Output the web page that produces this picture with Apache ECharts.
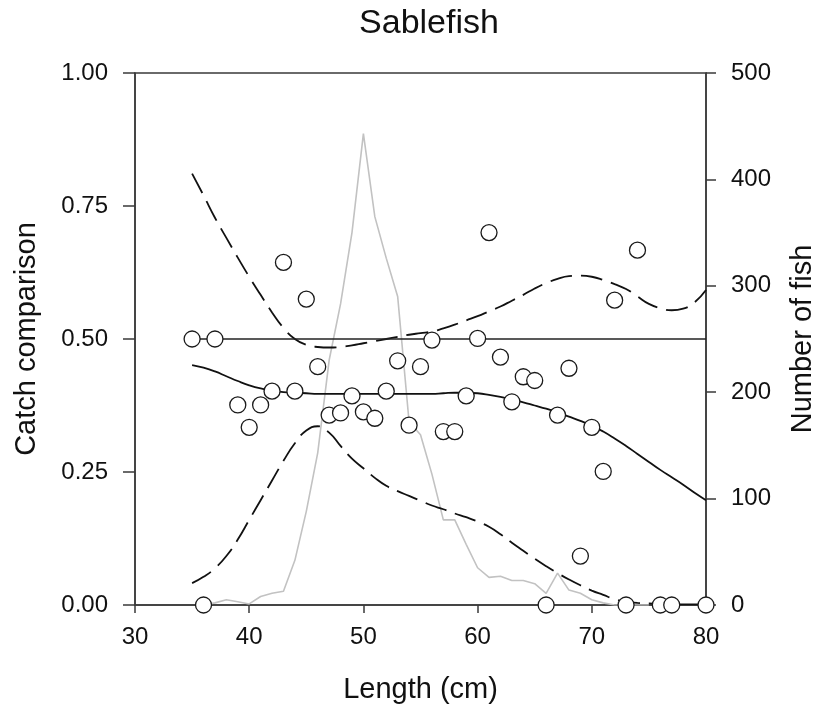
<!DOCTYPE html>
<html>
<head>
<meta charset="utf-8">
<title>Sablefish</title>
<script src="https://cdn.jsdelivr.net/npm/echarts@6/dist/echarts.min.js"></script>
<style>
  html, body { margin: 0; padding: 0; background: #fff; }
  #chart { width: 825px; height: 712px; }
</style>
</head>
<body>
<div id="chart"></div>
<script>
// Lengths (cm) at which the fitted curve and its confidence band are evaluated
const fitLength = [35,36,37,38,39,40,41,42,43,44,45,46,47,48,49,50,51,52,53,54,55,56,57,58,59,60,61,62,63,64,65,66,67,68,69,70,71,72,73,74,75,76,77,78,79,80];

// Fitted catch comparison curve
const fitValue = [0.451,0.446,0.439,0.430,0.421,0.413,0.407,0.403,0.400,0.399,0.398,0.397,0.397,0.397,0.397,0.397,0.397,0.397,0.397,0.397,0.397,0.397,0.398,0.399,0.399,0.398,0.395,0.391,0.386,0.381,0.375,0.369,0.362,0.354,0.346,0.337,0.326,0.313,0.299,0.284,0.269,0.254,0.240,0.226,0.211,0.197];

// Upper and lower 95% confidence limits
const upperBand = [0.811,0.770,0.728,0.690,0.653,0.617,0.583,0.550,0.521,0.500,0.489,0.485,0.484,0.485,0.488,0.492,0.496,0.500,0.504,0.508,0.511,0.514,0.520,0.527,0.535,0.543,0.552,0.561,0.572,0.583,0.595,0.605,0.613,0.618,0.619,0.617,0.611,0.603,0.594,0.580,0.566,0.558,0.554,0.557,0.569,0.592];
const lowerBand = [0.041,0.053,0.069,0.092,0.123,0.160,0.197,0.234,0.271,0.304,0.328,0.336,0.324,0.299,0.275,0.257,0.239,0.224,0.214,0.205,0.196,0.187,0.180,0.172,0.165,0.157,0.147,0.133,0.117,0.102,0.087,0.073,0.060,0.048,0.037,0.027,0.019,0.011,0.006,0.004,0.003,0.002,0.002,0.001,0.001,0.001];

// Equal-catch reference line
const refLength = [35, 80];
const refValue = [0.5, 0.5];

// Observed catch comparison by length class
const obsLength = [35,36,37,39,40,41,42,43,44,45,46,47,48,49,50,51,52,53,54,55,56,57,58,59,60,61,62,63,64,65,66,67,68,69,70,71,72,73,74,76,77,80];
const obsValue  = [0.500,0.000,0.500,0.376,0.334,0.376,0.402,0.644,0.402,0.575,0.448,0.357,0.361,0.393,0.363,0.351,0.402,0.459,0.338,0.448,0.498,0.326,0.326,0.393,0.501,0.700,0.466,0.382,0.429,0.422,0.000,0.357,0.445,0.092,0.334,0.251,0.573,0.000,0.667,0.000,0.000,0.000];

// Length frequency of measured fish (right axis)
const countLength = [36,37,38,39,40,41,42,43,44,45,46,47,48,49,50,51,52,53,54,55,56,57,58,59,60,61,62,63,64,65,66,67,68,69,70,71,72,73,74,75];
const fishCount   = [0,2,5,3,1,8,11,13,42,88,143,230,283,350,443,365,326,290,172,160,123,80,80,57,35,26,27,23,23,20,11,30,14,11,5,2,0,0,0,0];

// Axis ticks
const leftTicks = [0, 0.25, 0.5, 0.75, 1.0];
const rightTicks = [0, 100, 200, 300, 400, 500];
const xTicks = [30, 40, 50, 60, 70, 80];

const pairs = (xs, ys) => xs.map((x, i) => [x, ys[i]]);

const font = 'Liberation Sans, Arial, Helvetica, sans-serif';
const axisColor = '#3a3a3a';
const textColor = '#111111';

const chart = echarts.init(document.getElementById('chart'), null, { renderer: 'canvas' });

chart.setOption({
  backgroundColor: '#ffffff',
  animation: false,
  title: {
    text: 'Sablefish',
    left: 424,
    textAlign: 'center',
    top: 2,
    textStyle: { fontFamily: font, fontSize: 34, fontWeight: 'normal', color: textColor }
  },
  grid: {
    left: 135, right: 115, top: 73, bottom: 107,
    show: true, borderColor: axisColor, borderWidth: 1.5, backgroundColor: 'transparent'
  },
  xAxis: {
    type: 'value',
    min: xTicks[0], max: xTicks[xTicks.length - 1], interval: 10,
    name: 'Length (cm)', nameLocation: 'middle', nameGap: 70,
    nameTextStyle: { fontFamily: font, fontSize: 29, color: textColor },
    axisLine: { show: true, lineStyle: { color: axisColor, width: 1.5 } },
    axisTick: { show: true, length: 8, lineStyle: { color: axisColor, width: 1.5 } },
    axisLabel: { fontFamily: font, fontSize: 24, color: textColor, margin: 20 },
    splitLine: { show: false }
  },
  yAxis: [
    {
      type: 'value', position: 'left',
      min: leftTicks[0], max: leftTicks[leftTicks.length - 1], interval: 0.25,
      name: 'Catch comparison', nameLocation: 'middle', nameGap: 94,
      nameTextStyle: { fontFamily: font, fontSize: 29, color: textColor },
      axisLine: { show: true, lineStyle: { color: axisColor, width: 1.5 } },
      axisTick: { show: true, length: 12, lineStyle: { color: axisColor, width: 1.5 } },
      axisLabel: { fontFamily: font, fontSize: 24, color: textColor, margin: 27,
                   formatter: v => v.toFixed(2) },
      splitLine: { show: false }
    },
    {
      type: 'value', position: 'right',
      min: rightTicks[0], max: rightTicks[rightTicks.length - 1], interval: 100,
      name: 'Number of fish', nameLocation: 'middle', nameGap: 82,
      nameRotate: 90,
      nameTextStyle: { fontFamily: font, fontSize: 29, color: textColor },
      axisLine: { show: true, lineStyle: { color: axisColor, width: 1.5 } },
      axisTick: { show: true, length: 10, lineStyle: { color: axisColor, width: 1.5 } },
      axisLabel: { fontFamily: font, fontSize: 24, color: textColor, margin: 25 },
      splitLine: { show: false }
    }
  ],
  series: [
    {
      name: 'Number of fish', type: 'line', yAxisIndex: 1,
      data: pairs(countLength, fishCount),
      showSymbol: false, smooth: false, z: 1,
      lineStyle: { color: '#c2c2c2', width: 1.6 }
    },
    {
      name: 'Upper limit', type: 'line', yAxisIndex: 0,
      data: pairs(fitLength, upperBand),
      showSymbol: false, smooth: 0.5, z: 2,
      lineStyle: { color: '#111', width: 1.8, type: [22, 9] }
    },
    {
      name: 'Lower limit', type: 'line', yAxisIndex: 0,
      data: pairs(fitLength, lowerBand),
      showSymbol: false, smooth: 0.5, z: 2,
      lineStyle: { color: '#111', width: 1.8, type: [22, 9] }
    },
    {
      name: 'Equal catch', type: 'line', yAxisIndex: 0,
      data: pairs(refLength, refValue),
      showSymbol: false, z: 2,
      lineStyle: { color: '#222', width: 1.7 }
    },
    {
      name: 'Fitted', type: 'line', yAxisIndex: 0,
      data: pairs(fitLength, fitValue),
      showSymbol: false, smooth: 0.5, z: 3,
      lineStyle: { color: '#111', width: 1.8 }
    },
    {
      name: 'Observed', type: 'scatter', yAxisIndex: 0,
      data: pairs(obsLength, obsValue),
      symbol: 'circle', symbolSize: 16, z: 5,
      itemStyle: { color: '#ffffff', borderColor: '#1a1a1a', borderWidth: 1.3, opacity: 1 }
    }
  ]
});
</script>
</body>
</html>
